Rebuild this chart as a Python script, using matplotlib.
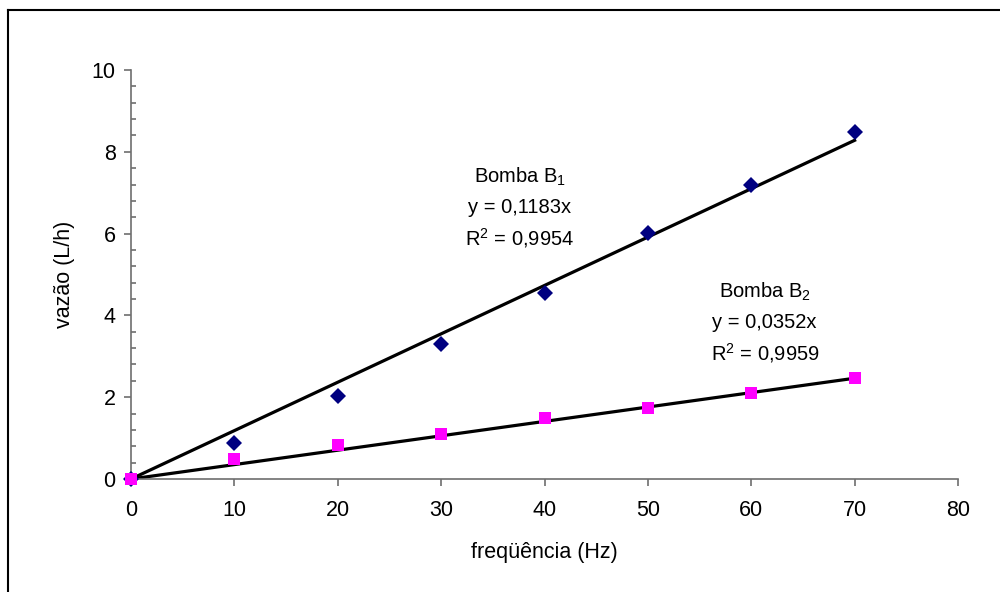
import numpy as np
import matplotlib
matplotlib.use("Agg")
from matplotlib import pyplot
from matplotlib.ticker import MultipleLocator
from matplotlib.lines import Line2D

pyplot.rcParams['font.family'] = ['Liberation Sans', 'DejaVu Sans']

# frequency [Hz] and flow [L/h]
freq = np.array([0, 10, 20, 30, 40, 50, 60, 70])
vazao_b1 = np.array([0.0, 0.88, 2.04, 3.31, 4.54, 6.01, 7.19, 8.49])
vazao_b2 = np.array([0.0, 0.48, 0.83, 1.09, 1.48, 1.73, 2.11, 2.46])
# trendline slopes (through origin) as printed on the chart
slope_b1 = 0.1183
slope_b2 = 0.0352
label_b1 = ["Bomba B$_\\mathregular{1}$", "y = 0,1183x", "R$^\\mathregular{2}$ = 0,9954"]
label_b2 = ["Bomba B$_\\mathregular{2}$", "y = 0,0352x", "R$^\\mathregular{2}$ = 0,9959"]

fig = pyplot.figure(figsize=(10, 5.92), dpi=100)
ax = fig.add_axes([0.131, 1 - 479/592., 0.958 - 0.131, (479 - 70)/592.])

xfit = np.array([0, freq.max()])
ax.plot(xfit, slope_b1*xfit, 'k-', lw=2.3, zorder=2)
ax.plot(xfit, slope_b2*xfit, 'k-', lw=2.3, zorder=2)
ax.plot(freq, vazao_b1, 'D', color='#000080', ms=8.5, mew=0, zorder=3, clip_on=False)
ax.plot(freq, vazao_b2, 's', color='#FF00FF', ms=8.3, mew=0, zorder=3, clip_on=False)

ax.set_xlim(0, 80)
ax.set_ylim(0, 10)
ax.xaxis.set_major_locator(MultipleLocator(10))
ax.yaxis.set_major_locator(MultipleLocator(2))
ax.yaxis.set_minor_locator(MultipleLocator(0.4))

for side in ['top', 'right']:
    ax.spines[side].set_visible(False)
for side in ['left', 'bottom']:
    ax.spines[side].set_color('#6e6e6e')
    ax.spines[side].set_linewidth(1.2)
ax.tick_params(axis='x', which='major', direction='out', length=5, width=1.2,
               color='#6e6e6e', labelsize=15.5, pad=10)
ax.tick_params(axis='y', which='major', direction='out', length=5, width=1.2,
               color='#6e6e6e', labelsize=15.5, pad=6)
ax.tick_params(axis='y', which='minor', direction='in', length=3.5, width=1.2,
               color='#6e6e6e')
ax.set_xlabel("freqüência (Hz)", fontsize=15.5, labelpad=15)
ax.set_ylabel("vazão (L/h)", fontsize=15.5, labelpad=12)

# equation labels, one line at a time
for i, s in enumerate(label_b1):
    ax.text(37.6, 7.38 - i*0.74, s, ha='center', va='center', fontsize=14.5)
for i, s in enumerate(label_b2):
    ax.text(61.3, 4.57 - i*0.74, s, ha='center', va='center', fontsize=14.5)

# chart area border (only top and left edges fall inside the picture)
fig.add_artist(Line2D([8/1000., 1.0], [1 - 10/592., 1 - 10/592.], color='k', lw=1.5))
fig.add_artist(Line2D([8/1000., 8/1000.], [0.0, 1 - 10/592.], color='k', lw=1.5))

pyplot.savefig("out.png", dpi=100)
